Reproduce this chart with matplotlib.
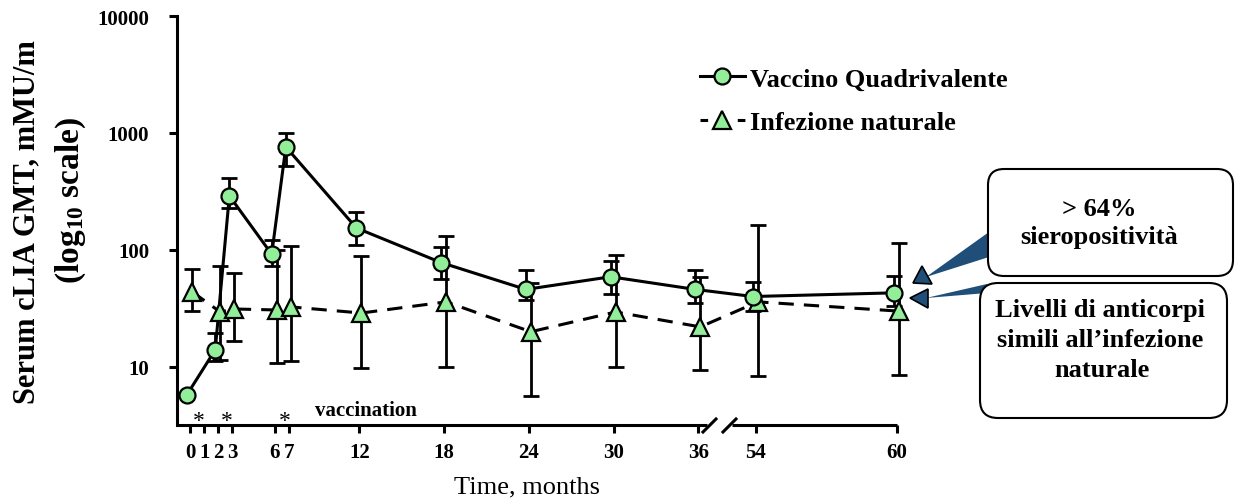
import numpy as np
import matplotlib
matplotlib.use('Agg')
import matplotlib.pyplot as plt
import matplotlib.transforms as mtransforms
from matplotlib.lines import Line2D
from matplotlib.patches import FancyBboxPatch, Polygon

plt.rcParams['font.family'] = ['Liberation Serif', 'DejaVu Serif']
plt.rcParams['font.weight'] = 'bold'
plt.rcParams['mathtext.fontset'] = 'custom'
plt.rcParams['mathtext.rm'] = 'Liberation Serif:bold'
plt.rcParams['mathtext.it'] = 'Liberation Serif:bold'
plt.rcParams['mathtext.bf'] = 'Liberation Serif:bold'

# Data
months = np.array([0, 2, 3, 6, 7, 12, 18, 24, 30, 36, 54, 60])
vac_gmt = np.array([5.8, 14, 290, 92, 760, 154, 78, 46, 59, 46, 40, 43])
vac_low = np.array([5.8, 11.2, 229, 73, 522, 110, 57, 37, 42, 35, 30, 33])
vac_high = np.array([5.8, 19.5, 412, 122, 1000, 211, 106, 67, 80, 67, 53, 60])

nat_gmt = np.array([44, 29.5, 31.3, 30.7, 32.6, 28.9, 36, 20, 29.5, 22, 36, 30])
nat_low = np.array([30, 11.5, 16.7, 10.9, 11.2, 9.8, 10, 5.6, 10, 9.4, 8.4, 8.5])
nat_high = np.array([69, 73, 64, 100, 108, 89, 131, 52, 91, 59, 164, 115])

tick_months = [0, 1, 2, 3, 6, 7, 12, 18, 24, 30, 36, 54, 60]
vaccination_months = [0.6, 2.6, 6.7]

# broken x axis: 36 -> 54 squeezed, right part stretched
GAP_START, GAP_END = 36.6, 53.0
m_knots = [-10, GAP_START, GAP_END, 70]
p_knots = [-10, GAP_START, 38.415, 38.415 + 17 * 1.665]


def fwd(m):
    return np.interp(m, m_knots, p_knots)


def inv(p):
    return np.interp(p, p_knots, m_knots)


W, H = 1239, 502
fig = plt.figure(figsize=(W / 100, H / 100), dpi=100)
ax = fig.add_axes([177 / W, 1 - 426 / H, (897 - 177) / W, (426 - 17) / H])
ax.set_yscale('log')
ax.set_xscale('function', functions=(fwd, inv))
ax.set_xlim(-0.92, 60)
ax.set_ylim(3.19, 10000)

trans_c = ax.transData + mtransforms.ScaledTranslation(-3 / 100, 0, fig.dpi_scale_trans)
trans_t = ax.transData + mtransforms.ScaledTranslation(2 / 100, 0, fig.dpi_scale_trans)

green = '#92EE98'
ax.errorbar(months, nat_gmt, yerr=[nat_gmt - nat_low, nat_high - nat_gmt], fmt='none',
            ecolor='black', elinewidth=2, capsize=5.5, capthick=2, transform=trans_t,
            zorder=2, clip_on=False)
ax.errorbar(months, vac_gmt, yerr=[vac_gmt - vac_low, vac_high - vac_gmt], fmt='none',
            ecolor='black', elinewidth=2, capsize=5.5, capthick=2, transform=trans_c,
            zorder=2, clip_on=False)
ax.plot(months, nat_gmt, color='black', lw=2.2, dashes=(5, 3.3), transform=trans_t, zorder=3,
        clip_on=False)
ax.plot(months, vac_gmt, color='black', lw=2.2, transform=trans_c, zorder=3, clip_on=False)
ax.plot(months, nat_gmt, '^', ms=12.5, mfc=green, mec='black', mew=1.6, transform=trans_t,
        zorder=4, clip_on=False)
ax.plot(months, vac_gmt, 'o', ms=11.5, mfc=green, mec='black', mew=1.6, transform=trans_c,
        zorder=5, clip_on=False)

# axes styling
for s in ['top', 'right', 'bottom']:
    ax.spines[s].set_visible(False)
ax.spines['left'].set_linewidth(2.2)
ax.set_yticks([10, 100, 1000, 10000])
ax.set_yticklabels(['10', '100', '1000', '10000'])
ax.yaxis.set_minor_locator(matplotlib.ticker.NullLocator())
ax.set_xticks(tick_months)
ax.set_xticklabels([str(m) for m in tick_months])
ax.xaxis.set_minor_locator(matplotlib.ticker.NullLocator())
ax.tick_params(axis='both', direction='out', length=6, width=2.2, labelsize=15)
ax.tick_params(axis='y', pad=14)
ax.tick_params(axis='x', pad=6)

# broken bottom axis
btrans = mtransforms.blended_transform_factory(ax.transData, ax.transAxes)
ax.plot([-0.92, GAP_START], [0, 0], color='black', lw=2.2, transform=btrans, clip_on=False,
        solid_capstyle='butt')
ax.plot([GAP_END, 60], [0, 0], color='black', lw=2.2, transform=btrans, clip_on=False,
        solid_capstyle='butt')

# vaccination markers
for m in vaccination_months:
    ax.text(m, -0.014, '*', transform=btrans, ha='center', va='bottom', fontsize=17,
            fontweight='normal')
ax.text(8.85, 0.037, 'vaccination', transform=btrans, ha='left', va='center', fontsize=15)

# legend
h1 = Line2D([], [], color='black', lw=2.2, marker='o', ms=11.5, mfc=green, mec='black', mew=1.6)
h2 = Line2D([], [], color='black', lw=2.2, dashes=(2.5, 3.6), marker='^', ms=12.5, mfc=green,
            mec='black', mew=1.6)
ax.legend([h1, h2], ['Vaccino Quadrivalente', 'Infezione naturale'], loc='upper left',
          bbox_to_anchor=(700 / W, 1 - 68 / H), bbox_transform=fig.transFigure, frameon=False,
          fontsize=19, handlelength=1.7, handletextpad=0.2, labelspacing=0.76, borderpad=0,
          borderaxespad=0)

# overlay in pixel coordinates for labels and callouts
ov = fig.add_axes([0, 0, 1, 1])
ov.set_xlim(0, W)
ov.set_ylim(H, 0)
ov.axis('off')

ov.text(27, 222, 'Serum cLIA GMT, mMU/m', rotation=90, ha='center', va='center', fontsize=22)
ov.text(71, 201, r'(log$_{10}$ scale)', rotation=90, ha='center', va='center', fontsize=24)
ov.text(527, 487, 'Time, months', ha='center', va='center', fontsize=19, fontweight='normal')

# break marks
for x0 in [703, 723]:
    ov.plot([x0, x0 + 13], [433, 420], color='black', lw=2.2)

navy = '#1F4E79'
ov.add_patch(Polygon([(926, 278), (989, 233), (989, 258)], closed=True, fc=navy, ec='none'))
ov.add_patch(Polygon([(926, 299), (987, 285), (987, 294)], closed=True, fc=navy, ec='none'))
ov.add_patch(Polygon([(913, 284), (922, 267), (932, 285)], closed=True, fc=navy, ec='black', lw=1.2))
ov.add_patch(Polygon([(910, 299), (928, 290), (928, 309)], closed=True, fc=navy, ec='black', lw=1.2))

ov.add_patch(FancyBboxPatch((988, 170), 245, 107, boxstyle='round,pad=0,rounding_size=16',
                            fc='white', ec='black', lw=1.5))
ov.add_patch(FancyBboxPatch((980, 284), 247, 135, boxstyle='round,pad=0,rounding_size=18',
                            fc='white', ec='black', lw=1.5))
ov.text(1099, 210, '> 64%', ha='center', va='center', fontsize=19)
ov.text(1099, 238, 'sieropositività', ha='center', va='center', fontsize=19)
ov.text(1100, 311, 'Livelli di anticorpi', ha='center', va='center', fontsize=19)
ov.text(1100, 341, 'simili all\u2019infezione', ha='center', va='center', fontsize=19)
ov.text(1102, 371, 'naturale', ha='center', va='center', fontsize=19)

fig.savefig('out.png', dpi=100)
